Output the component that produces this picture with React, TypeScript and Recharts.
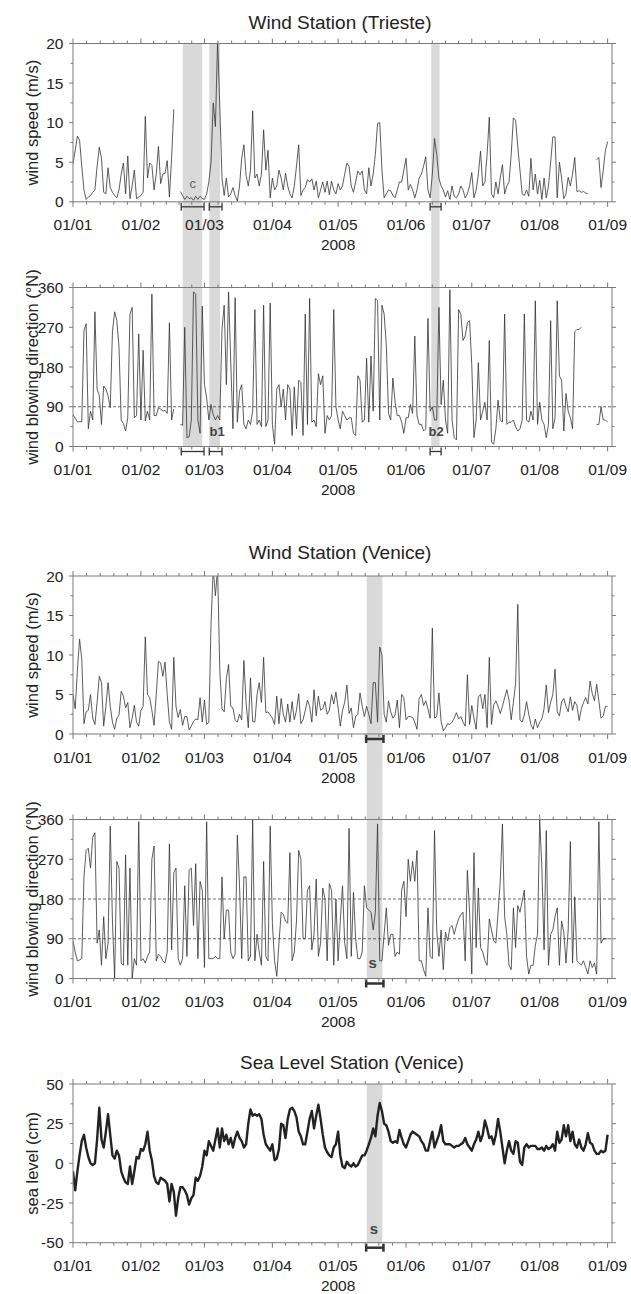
import React from 'react';
import { LineChart, Line, XAxis, YAxis, ReferenceArea, ReferenceLine, ReferenceDot } from 'recharts';

// ─── Style constants ──────────────────────────────────────────────────────────
const FONT = '"Liberation Sans", Arial, Helvetica, sans-serif';
const AXIS_COLOR = '#7a7a7a';
const TEXT_COLOR = '#222';
const LINE_COLOR = '#333';
const BAND_COLOR = '#d9d9d9';

// ─── Axis data (days since 01/01/2008) ────────────────────────────────────────
const X_MAX = 246;
const MONTH_STARTS = [0, 31, 60, 91, 121, 152, 182, 213, 244];
const MONTH_LABELS = ['01/01', '01/02', '01/03', '01/04', '01/05', '01/06', '01/07', '01/08', '01/09'];
const YEAR_LABEL = '2008';
const YEAR_LABEL_AT = 121;

const SPEED_TICKS = [0, 2.5, 5, 7.5, 10, 12.5, 15, 17.5, 20];
const DIR_TICKS = [0, 45, 90, 135, 180, 225, 270, 315, 360];
const SEA_TICKS = [-50, -37.5, -25, -12.5, 0, 12.5, 25, 37.5, 50];

// ─── Series (daily values) ────────────────────────────────────────────────────
const TRIESTE_SPEED = [
    4.8, 6.5, 8.3, 7.8, 4.5, 1.5, 0.3, 0.6, 0.8, 1.2,
    1.5, 4.5, 6.9, 5.5, 1.2, 1.0, 4.3, 1.8, 1.2, 0.8,
    0.5, 1.5, 3.5, 4.9, 1.0, 5.8, 0.4, 2.0, 4.0, 0.4,
    0.6, 0.8, 1.2, 10.8, 3.0, 4.9, 4.6, 1.5, 3.5, 7.0,
    2.3, 3.5, 3.6, 5.2, 0.6, 5.5, 11.7, null, null, 1.3,
    0.8, 0.3, 0.7, 0.4, 0.5, 0.2, 0.7, 0.3, 0.7, 0.4,
    0.3, 1.0, 2.5, 5.0, 12.5, 9.5, 20.5, 12.0, 3.0, 0.8,
    3.0, 0.6, 1.0, 1.8, 0.8, 0.1, 2.0, 5.5, 7.2, 3.3,
    2.0, 4.0, 11.5, 3.0, 3.5, 2.0, 3.5, 9.1, 4.0, 6.5,
    0.5, 3.0, 1.5, 2.0, 4.0, 3.0, 1.5, 3.6, 2.0, 1.0,
    0.5, 2.0, 4.5, 7.2, 0.8, 1.5, 1.8, 2.8, 2.5, 2.9,
    1.5, 2.6, 0.5, 1.5, 2.5, 1.2, 2.6, 0.9, 2.6, 1.5,
    1.0, 2.3, 1.5, 2.0, 3.5, 4.9, 4.5, 2.0, 1.2, 2.5,
    3.9, 3.4, 3.9, 1.5, 1.0, 4.3, 2.0, 3.5, 6.0, 9.9,
    10.0, 4.0, 0.5, 1.0, 1.5, 1.4, 0.8, 0.5, 1.5, 2.5,
    2.5, 4.0, 5.5, 1.5, 2.2, 1.5, 0.5, 1.5, 3.0, 3.5,
    4.5, 5.7, 1.5, 0.5, 3.5, 8.0, 6.0, 3.0, 2.0, 1.5,
    0.6, 1.4, 0.3, 2.0, 0.7, 0.5, 1.0, 2.0, 1.5, 0.5,
    1.0, 2.0, 3.7, 0.5, 1.5, 3.5, 6.4, 2.0, 2.5, 6.0,
    10.7, 1.0, 0.5, 2.5, 1.0, 3.0, 4.7, 1.0, 2.0, 2.5,
    6.0, 10.6, 10.3, 7.0, 4.0, 1.0, 0.8, 1.5, 0.7, 5.5,
    1.5, 3.5, 1.0, 2.7, 0.3, 3.0, 0.5, 2.0, 5.0, 8.2,
    8.2, 0.5, 5.0, 3.0, 0.4, 1.0, 3.1, 2.0, 3.5, 5.6,
    1.3, 1.4, 1.2, 1.3, 1.1, 1.0, null, null, null, 5.3,
    5.6, 1.8, 4.0, 6.5, 7.6,
];

const TRIESTE_DIR = [
    72, 64, 56, 56, 56, 262, 278, 40, 80, 60,
    305, 130, 115, 50, 137, 130, 115, 88, 260, 305,
    285, 225, 60, 52, 35, 65, 300, 315, 65, 70,
    255, 60, 218, 58, 80, 60, 345, 70, 70, 88,
    85, 80, 82, 75, 280, 60, 85, null, null, 50,
    48, 270, 20, 22, 60, 350, 345, 60, 30, 318,
    140, 110, 60, 95, 72, 60, 70, 60, 265, 320,
    140, 350, 190, 40, 337, 55, 125, 140, 50, 40,
    60, 50, 80, 310, 50, 60, 45, 320, 45, 60,
    325, 50, 5, 130, 140, 90, 130, 60, 140, 130,
    25, 135, 40, 150, 145, 25, 300, 50, 335, 55,
    60, 45, 165, 140, 160, 30, 70, 60, 70, 310,
    90, 60, 40, 80, 70, 60, 65, 65, 30, 25,
    160, 150, 55, 60, 200, 55, 205, 80, 335, 330,
    60, 320, 300, 230, 75, 60, 155, 100, 70, 70,
    55, 30, 65, 65, 95, 75, 250, 70, 50, 50,
    35, 40, 290, 80, 90, 60, 60, 315, 95, 150,
    60, 30, 355, 60, 20, 15, 310, 300, 240, 250,
    280, 285, 185, 20, 60, 190, 60, 80, 100, 60,
    240, 10, 5, 40, 105, 60, 55, 300, 50, 55,
    55, 60, 45, 35, 40, 60, 300, 60, 55, 80,
    60, 330, 50, 100, 60, 50, 20, 50, 285, 40,
    65, 330, 160, 150, 35, 120, 80, 65, 40, 260,
    265, 265, 270, null, null, null, null, null, null, 50,
    50, 90, 60, 60, 55,
];

const VENICE_SPEED = [
    5, 3.2, 8, 12, 9.5, 1.3, 2.8, 3, 5, 2,
    1.2, 4, 7.3, 6.5, 1, 3.5, 6.5, 3.5, 1.5, 0.6,
    2, 2.4, 5.4, 4.8, 3.3, 4, 0.8, 2, 3.6, 1.5,
    1, 3, 3.5, 12.3, 5, 4.6, 3, 1.1, 5, 9.2,
    9, 7.3, 9.1, 5, 1.5, 0.6, 9.7, 3.5, 2.1, 3.1,
    1.1, 2.2, 2.2, 0.5, 1, 1.6, 1.9, 1.8, 4.6, 1.5,
    4.3, 1.2, 1.5, 14, 21, 17.5, 21, 8, 3.2, 2.8,
    7, 8.8, 3.5, 3.3, 1.8, 1.5, 2.5, 1.8, 9.3, 4,
    0.8, 7.1, 1.6, 1.5, 5, 6.5, 4, 9.7, 2.7, 2.8,
    2.4, 2, 1.2, 4.8, 1.3, 4.5, 2.5, 1.5, 3.8, 1.5,
    4.1, 1.8, 3, 5.1, 1.3, 1.8, 3, 4.3, 3.5, 1.5,
    5.6, 2.3, 4.8, 3, 3.2, 4.1, 2.5, 3, 5, 3.8,
    5.3, 3.3, 1, 3, 4, 6.2, 2.6, 3.3, 0.8, 2.2,
    2.5, 5.2, 3.5, 2.2, 3.5, 2.5, 1.3, 6.5, 6.5, 1.5,
    11, 10, 2.5, 1.5, 4.2, 2.8, 2, 2.4, 4.3, 0.8,
    5, 4.6, 1.8, 2.2, 2.2, 2.1, 1.5, 0.6, 4.5, 5,
    3.6, 4.2, 3.2, 2, 13.4, 2, 2.2, 5.2, 1.6, 0.4,
    0.8, 1.3, 1.2, 1.5, 2, 2.7, 1.9, 2.2, 1.5, 1,
    7.5, 1.2, 3.6, 2, 0.6, 4.7, 5, 3.2, 5, 0.8,
    9.7, 1.2, 3.7, 4.2, 3.5, 2.6, 3.5, 4.6, 5.6, 4.3,
    1.8, 4, 6.4, 16.4, 1.8, 1.5, 2.4, 4.1, 2.5, 1.2,
    0.6, 1.9, 0.8, 1.5, 1.9, 3.2, 6.2, 2.7, 4, 5,
    8.2, 2.8, 2.3, 4.1, 4.5, 3.5, 2.8, 4.7, 3, 4.1,
    3.6, 1.7, 3.2, 4, 4.6, 3.8, 6.7, 5.1, 4.2, 6.3,
    4.2, 2, 2.3, 3.5, 3.5,
];

const VENICE_DIR = [
    85, 60, 40, 42, 45, 230, 290, 295, 250, 320,
    330, 80, 110, 30, 140, 45, 80, 345, 130, 0,
    265, 250, 35, 30, 280, 30, 250, 0, 45, 30,
    355, 40, 45, 35, 50, 60, 270, 300, 40, 55,
    50, 40, 35, 60, 305, 65, 240, 250, 45, 30,
    45, 210, 50, 245, 250, 120, 260, 45, 220, 200,
    25, 355, 45, 45, 45, 50, 45, 45, 230, 90,
    155, 155, 60, 45, 55, 325, 210, 45, 230, 230,
    40, 50, 360, 40, 100, 60, 30, 265, 50, 40,
    345, 125, 40, 5, 80, 150, 145, 130, 125, 285,
    40, 60, 130, 290, 270, 90, 90, 200, 210, 65,
    100, 225, 50, 80, 205, 180, 40, 215, 200, 30,
    180, 40, 130, 210, 80, 45, 340, 50, 195, 90,
    45, 45, 60, 210, 160, 155, 150, 110, 150, 350,
    40, 40, 100, 160, 75, 100, 100, 50, 60, 55,
    200, 220, 140, 270, 220, 265, 220, 290, 40, 40,
    20, 5, 160, 50, 45, 335, 110, 50, 110, 20,
    105, 85, 115, 120, 100, 120, 135, 145, 150, 40,
    245, 150, 10, 285, 70, 205, 70, 60, 40, 30,
    135, 110, 85, 80, 150, 220, 350, 140, 100, 30,
    20, 160, 70, 165, 150, 175, 200, 50, 10, 30,
    30, 75, 100, 360, 250, 65, 335, 30, 100, 110,
    140, 160, 30, 130, 105, 35, 110, 310, 35, 185,
    40, 35, 30, 40, 25, 10, 40, 25, 35, 10,
    355, 80, 90, 90, 90,
];

const SEA_LEVEL = [
    -5, -17, -5, 5, 14, 18, 10, 4, 0, -1,
    0, 15, 35, 15, 10, 20, 31, 18, 5, 3,
    8, 5, -5, -9, -12, -13, -2, -13, -5, 4,
    3, 9, 8, 12, 20, 8, 2, -8, -12, -13,
    -9, -10, -11, -13, -24, -13, -18, -33, -22, -15,
    -15, -17, -20, -26, -22, -20, -9, -11, -8, -2,
    8, 5, 14, 11, 8, 15, 22, 10, 22, 14,
    18, 12, 16, 10, 16, 20, 16, 14, 10, 12,
    25, 34, 30, 31, 30, 31, 28, 18, 12, 10,
    8, 12, 2, 3, 9, 25, 24, 16, 28, 34,
    35, 33, 29, 20, 17, 12, 12, 20, 28, 33,
    22, 30, 37, 28, 18, 10, 7, 5, 4, 10,
    12, 20, 5, -2, -3, 1, -1, -2, 0, -2,
    -1, 2, 5, 5, 8, 12, 16, 22, 17, 30,
    38, 33, 25, 24, 20, 14, 13, 14, 13, 21,
    16, 12, 10, 14, 18, 20, 19, 18, 17, 14,
    12, 8, 8, 14, 20, 10, 14, 18, 24, 14,
    12, 12, 12, 11, 10, 11, 11, 12, 13, 16,
    12, 10, 8, 12, 15, 20, 14, 18, 27, 22,
    16, 17, 12, 18, 28, 20, 10, 0, 8, 14,
    8, 6, 14, 13, 1, -1, 10, 12, 10, 11,
    11, 11, 9, 9, 10, 8, 11, 9, 10, 12,
    8, 20, 13, 15, 24, 17, 24, 14, 20, 12,
    10, 15, 10, 8, 12, 19, 13, 12, 8, 6,
    6, 8, 7, 8, 18,
];

// ─── Highlighted events (day ranges) ──────────────────────────────────────────
const TRIESTE_BANDS = [[50.1, 59], [62.2, 67.1], [163.5, 167.3]];
const TRIESTE_BRACKETS = [[49.4, 59.8], [62.2, 68], [163, 168]];
const VENICE_BANDS = [[134.1, 141.2]];
const VENICE_BRACKETS = [[133.8, 141.7]];

// ─── Helpers ──────────────────────────────────────────────────────────────────
const toRows = (vals: (number | null)[]) => vals.map((v, day) => ({ day, v }));

const X_TICKS = (() => {
    const out: number[] = [];
    for (let i = 0; i < MONTH_STARTS.length - 1; i++) {
        const s = MONTH_STARTS[i];
        const e = MONTH_STARTS[i + 1];
        for (let k = 0; k < 5; k++) out.push(s + (k * (e - s)) / 5);
    }
    out.push(MONTH_STARTS[MONTH_STARTS.length - 1]);
    return out;
})();

const XTick = (props: any) => {
    const { x, y, payload, side } = props;
    const idx = MONTH_STARTS.indexOf(payload.value);
    const major = idx >= 0;
    const dir = side === 'top' ? -1 : 1;
    const len = major ? 5 : 3;
    return (
        <g>
            <line x1={x} x2={x} y1={y} y2={y + dir * len} stroke={AXIS_COLOR} strokeWidth={1} />
            {side === 'bottom' && major && (
                <text x={x} y={y + 28.5} textAnchor="middle" fontSize={15.5} fontFamily={FONT} fill={TEXT_COLOR}>
                    {MONTH_LABELS[idx]}
                </text>
            )}
            {side === 'bottom' && payload.value === YEAR_LABEL_AT && (
                <text x={x} y={y + 48.5} textAnchor="middle" fontSize={15.5} fontFamily={FONT} fill={TEXT_COLOR}>
                    {YEAR_LABEL}
                </text>
            )}
        </g>
    );
};

const YTick = (props: any) => {
    const { x, y, payload, side, step } = props;
    const v = payload.value;
    const major = Math.abs(v / step - Math.round(v / step)) < 1e-6;
    const dir = side === 'left' ? -1 : 1;
    const len = major ? 4 : 2.5;
    return (
        <g>
            <line x1={x} x2={x + dir * len} y1={y} y2={y} stroke={AXIS_COLOR} strokeWidth={1} />
            {side === 'left' && major && (
                <text x={x - 9.5} y={y} dy="0.36em" textAnchor="end" fontSize={15.5} fontFamily={FONT} fill={TEXT_COLOR}>
                    {v}
                </text>
            )}
        </g>
    );
};

const YLabel = (props: any) => {
    const { viewBox, text } = props;
    const cx = 32;
    const cy = viewBox.y + viewBox.height / 2;
    return (
        <text x={cx} y={cy} dy="0.36em" textAnchor="middle" transform={`rotate(-90, ${cx}, ${cy})`}
            fontSize={16.5} fontFamily={FONT} fill={TEXT_COLOR}>
            {text}
        </text>
    );
};

const Bracket = (props: any) => {
    const { x1, x2, y1, weight } = props;
    const y = y1 + 5;
    return (
        <g stroke="#333" strokeWidth={weight} fill="none">
            <line x1={x1} x2={x2} y1={y} y2={y} />
            <line x1={x1} x2={x1} y1={y - 4} y2={y + 4} />
            <line x1={x2} x2={x2} y1={y - 4} y2={y + 4} />
        </g>
    );
};

const TagText = (props: any) => {
    const { cx, cy, text, bold, size } = props;
    return (
        <text x={cx} y={cy} dy="0.36em" textAnchor="middle" fontSize={size} fontWeight={bold ? 'bold' : 'normal'}
            fontFamily={FONT} fill={bold ? '#444' : '#666'}>
            {text}
        </text>
    );
};

// ─── Panel ────────────────────────────────────────────────────────────────────
interface PanelProps {
    top: number;
    height: number;
    plotTop: number;
    plotHeight: number;
    values: (number | null)[];
    yDomain: [number, number];
    yTicks: number[];
    yStep: number;
    yLabel: string;
    lineWidth: number;
    children?: React.ReactNode;
}

function Panel({ top, height, plotTop, plotHeight, values, yDomain, yTicks, yStep, yLabel, lineWidth, children }: PanelProps) {
    const topAxisH = 8;
    const marginTop = plotTop - top - topAxisH;
    const bottomAxisH = height - (plotTop - top) - plotHeight;
    const data = toRows(values);
    return (
        <div style={{ position: 'absolute', left: 0, top, width: 631, height }}>
            <LineChart width={631} height={height} data={data} margin={{ top: marginTop, right: 0, bottom: 0, left: 0 }}>
                {children}
                <XAxis xAxisId="b" dataKey="day" type="number" domain={[0, X_MAX]} ticks={X_TICKS} interval={0}
                    allowDataOverflow height={bottomAxisH} tickLine={false} tickSize={0} tickMargin={0}
                    axisLine={{ stroke: AXIS_COLOR }} tick={<XTick side="bottom" />} />
                <XAxis xAxisId="t" orientation="top" dataKey="day" type="number" domain={[0, X_MAX]} ticks={X_TICKS}
                    interval={0} allowDataOverflow height={topAxisH} tickLine={false} tickSize={0} tickMargin={0}
                    axisLine={{ stroke: AXIS_COLOR }} tick={<XTick side="top" />} />
                <YAxis yAxisId="l" type="number" domain={yDomain} ticks={yTicks} interval={0} allowDataOverflow width={73}
                    tickLine={false} tickSize={0} tickMargin={0} axisLine={{ stroke: AXIS_COLOR }}
                    tick={<YTick side="left" step={yStep} />} label={<YLabel text={yLabel} />} />
                <YAxis yAxisId="r" orientation="right" type="number" domain={yDomain} ticks={yTicks} interval={0}
                    allowDataOverflow width={19} tickLine={false} tickSize={0} tickMargin={0}
                    axisLine={{ stroke: AXIS_COLOR }} tick={<YTick side="right" step={yStep} />} />
                <Line xAxisId="b" yAxisId="l" type="linear" dataKey="v" stroke={lineWidth > 1.5 ? '#222' : LINE_COLOR}
                    strokeWidth={lineWidth} strokeLinejoin="round" dot={false} activeDot={false}
                    connectNulls={false} isAnimationActive={false} />
            </LineChart>
        </div>
    );
}

const bandAreas = (bands: number[][], lo: number, hi: number) =>
    bands.map(([a, b], i) => (
        <ReferenceArea key={`band${i}`} xAxisId="b" yAxisId="l" x1={a} x2={b} y1={lo} y2={hi}
            fill={BAND_COLOR} fillOpacity={1} stroke="none" ifOverflow="visible" />
    ));

const brackets = (spans: number[][], y: number, weight: number) =>
    spans.map(([a, b], i) => (
        <ReferenceLine key={`br${i}`} xAxisId="b" yAxisId="l" segment={[{ x: a, y }, { x: b, y }]}
            ifOverflow="visible" shape={(p: any) => <Bracket {...p} weight={weight} />} />
    ));

const tag = (key: string, x: number, y: number, text: string, bold: boolean, size: number) => (
    <ReferenceDot key={key} xAxisId="b" yAxisId="l" x={x} y={y} r={0} ifOverflow="visible"
        shape={(p: any) => <TagText {...p} text={text} bold={bold} size={size} />} />
);

const Title = ({ text, center }: { text: string; center: number }) => (
    <div style={{
        position: 'absolute', left: 240, width: 200, top: center - 12, height: 24, lineHeight: '24px',
        textAlign: 'center', fontFamily: FONT, fontSize: 19, color: TEXT_COLOR, whiteSpace: 'nowrap',
    }}>
        {text}
    </div>
);

export default function App() {
    return (
        <div style={{ position: 'absolute', left: 0, top: 0, width: 631, height: 1294, background: '#fff', overflow: 'hidden' }}>
            <Title text="Wind Station (Trieste)" center={22.5} />
            <Panel top={0} height={258} plotTop={43.5} plotHeight={158.3} values={TRIESTE_SPEED}
                yDomain={[0, 20]} yTicks={SPEED_TICKS} yStep={5} yLabel="wind speed (m/s)" lineWidth={0.8}>
                {bandAreas(TRIESTE_BANDS, -20, 20)}
                {brackets(TRIESTE_BRACKETS, 0, 1.3)}
                {tag('c', 54.6, 2.3, 'c', false, 13)}
            </Panel>
            <Panel top={258} height={246} plotTop={287.5} plotHeight={159} values={TRIESTE_DIR}
                yDomain={[0, 360]} yTicks={DIR_TICKS} yStep={90} yLabel="wind blowing direction (°N)" lineWidth={0.8}>
                {bandAreas(TRIESTE_BANDS, 0, 700)}
                <ReferenceLine xAxisId="b" yAxisId="l" y={90} stroke="#444" strokeWidth={0.8} strokeDasharray="3 2" />
                {brackets(TRIESTE_BRACKETS, 0, 1.3)}
                {tag('b1', 65.8, 35, 'b1', true, 13)}
                {tag('b2', 165.7, 35, 'b2', true, 13)}
            </Panel>
            <Title text="Wind Station (Venice)" center={553} />
            <Panel top={504} height={286} plotTop={576} plotHeight={158} values={VENICE_SPEED}
                yDomain={[0, 20]} yTicks={SPEED_TICKS} yStep={5} yLabel="wind speed (m/s)" lineWidth={0.8}>
                {bandAreas(VENICE_BANDS, -20, 20)}
                {brackets(VENICE_BRACKETS, 0, 2.5)}
            </Panel>
            <Panel top={790} height={245} plotTop={819.5} plotHeight={159} values={VENICE_DIR}
                yDomain={[0, 360]} yTicks={DIR_TICKS} yStep={90} yLabel="wind blowing direction (°N)" lineWidth={0.8}>
                {bandAreas(VENICE_BANDS, 0, 700)}
                <ReferenceLine xAxisId="b" yAxisId="l" y={90} stroke="#444" strokeWidth={0.8} strokeDasharray="3 2" />
                <ReferenceLine xAxisId="b" yAxisId="l" y={180} stroke="#444" strokeWidth={0.8} strokeDasharray="3 2" />
                {brackets(VENICE_BRACKETS, 0, 2.5)}
                {tag('s1', 136.8, 35, 's', true, 15)}
            </Panel>
            <Title text="Sea Level Station (Venice)" center={1063} />
            <Panel top={1035} height={259} plotTop={1084} plotHeight={158.7} values={SEA_LEVEL}
                yDomain={[-50, 50]} yTicks={SEA_TICKS} yStep={25} yLabel="sea level (cm)" lineWidth={2.4}>
                {bandAreas(VENICE_BANDS, -50, 50)}
                {brackets(VENICE_BRACKETS, -50, 2.5)}
                {tag('s2', 137.3, -41.4, 's', true, 15)}
            </Panel>
        </div>
    );
}
